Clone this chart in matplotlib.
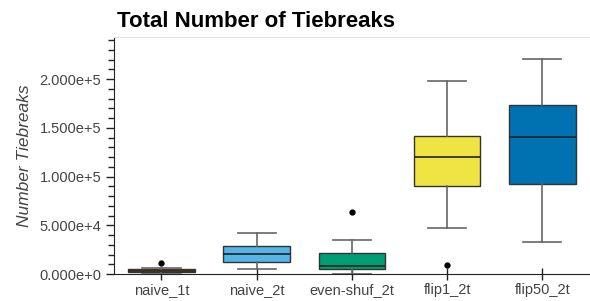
import numpy as np
import matplotlib.pyplot as plt

# box stats
categories = ["naive_1t", "naive_2t", "even-shuf_2t", "flip1_2t", "flip50_2t"]
whislo = [500, 5100, 600, 47400, 33400]
q1 = [2000, 12600, 5100, 90800, 92200]
med = [3500, 20500, 8800, 120500, 140400]
q3 = [5400, 29300, 21800, 142000, 173500]
whishi = [6300, 42000, 35100, 198000, 220300]
fliers = [[11900], [], [63500], [9800], []]
colors = ["#E69F00", "#56B4E9", "#009E73", "#F0E442", "#0072B2"]
ytick_vals = [0, 50000, 100000, 150000, 200000]
ytick_labels = ["0.000e+0", "5.000e+4", "1.000e+5", "1.500e+5", "2.000e+5"]

plt.rcParams["font.family"] = ["Liberation Sans", "DejaVu Sans"]

fig = plt.figure(figsize=(5.9, 3.01), dpi=100)
ax = fig.add_axes([0.193, 0.089, 0.807, 0.789])

stats = []
for i, name in enumerate(categories):
    stats.append({"label": name, "whislo": whislo[i], "q1": q1[i], "med": med[i],
                  "q3": q3[i], "whishi": whishi[i], "fliers": fliers[i]})

pos = np.arange(len(categories)) + 0.5
bp = ax.bxp(stats, positions=pos, widths=0.7, patch_artist=True,
            boxprops=dict(edgecolor="#333333", linewidth=1.0),
            medianprops=dict(color="#222222", linewidth=1.2),
            whiskerprops=dict(color="#666666", linewidth=1.2),
            capprops=dict(color="#666666", linewidth=1.2),
            capwidths=0.4,
            flierprops=dict(marker="o", markersize=3.5, markerfacecolor="black",
                            markeredgecolor="black"))
for patch, c in zip(bp["boxes"], colors):
    patch.set_facecolor(c)

ax.set_xlim(0, len(categories))
ax.set_ylim(0, 243400)
ax.set_xticks(pos)
ax.set_xticklabels(categories)
ax.set_yticks(ytick_vals)
ax.set_yticklabels(ytick_labels)
ax.set_yticks(np.arange(0, 243400, 10000), minor=True)

ax.tick_params(axis="both", which="major", labelsize=10.5, labelcolor="#444444",
               color="#222222", length=6, width=1)
ax.tick_params(axis="y", which="minor", length=4, width=1, color="#222222")
ax.tick_params(axis="x", which="major", direction="inout", length=8, pad=2)
ax.tick_params(axis="y", which="major", pad=3)

ax.spines["right"].set_visible(False)
ax.spines["top"].set_color("#e5e5e5")
ax.spines["left"].set_color("#222222")
ax.spines["bottom"].set_color("#222222")

ax.set_ylabel("Number Tiebreaks", fontsize=12.5, style="italic", color="#444444", labelpad=5)
fig.text(0.198, 0.91, "Total Number of Tiebreaks", fontsize=16, fontweight="bold",
         ha="left", va="baseline")

fig.savefig("out.png", dpi=100)
